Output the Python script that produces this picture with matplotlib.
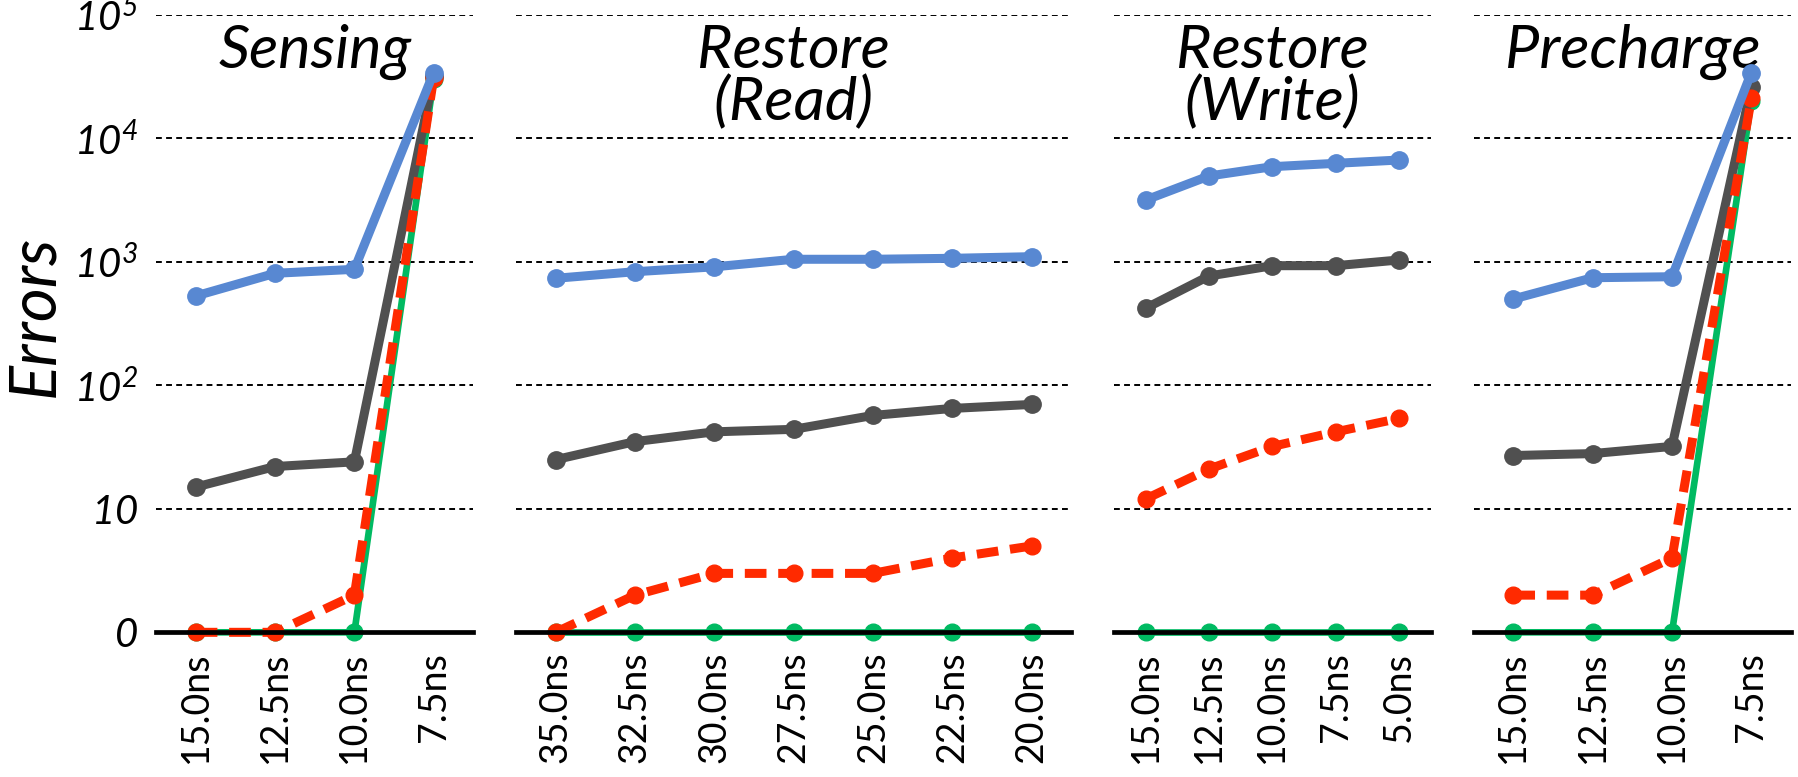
import numpy as np
import matplotlib
matplotlib.use("Agg")
import matplotlib.pyplot as plt
from matplotlib.gridspec import GridSpec

plt.rcParams['font.family'] = 'Lato'
plt.rcParams['mathtext.fontset'] = 'custom'
plt.rcParams['mathtext.rm'] = 'Lato:italic'
plt.rcParams['mathtext.it'] = 'Lato:italic'

# error counts per timing parameter
sensing_labels = ['15.0ns', '12.5ns', '10.0ns', '7.5ns']
sensing_blue = [529, 807, 869, 34000]
sensing_gray = [15, 22, 24, 32000]
sensing_red = [0, 0, 2, 31000]
sensing_green = [0, 0, 0, 30000]

read_labels = ['35.0ns', '32.5ns', '30.0ns', '27.5ns', '25.0ns', '22.5ns', '20.0ns']
read_blue = [735, 831, 910, 1048, 1048, 1067, 1100]
read_gray = [25, 35, 42, 44, 57, 65, 70]
read_red = [0, 2, 3, 3, 3, 4, 5]
read_green = [0, 0, 0, 0, 0, 0, 0]

write_labels = ['15.0ns', '12.5ns', '10.0ns', '7.5ns', '5.0ns']
write_blue = [3160, 4950, 5890, 6270, 6670]
write_gray = [420, 767, 930, 930, 1035]
write_red = [12, 21, 32, 42, 54]
write_green = [0, 0, 0, 0, 0]

pre_labels = ['15.0ns', '12.5ns', '10.0ns', '7.5ns']
pre_blue = [500, 743, 757, 34000]
pre_gray = [27, 28, 32, 26000]
pre_red = [2, 2, 4, 21000]
pre_green = [0, 0, 0, 20000]

panels = [
    ('Sensing', sensing_labels, sensing_blue, sensing_gray, sensing_red, sensing_green, 4),
    ('Restore\n(Read)', read_labels, read_blue, read_gray, read_red, read_green, 7),
    ('Restore\n(Write)', write_labels, write_blue, write_gray, write_red, write_green, 4),
    ('Precharge', pre_labels, pre_blue, pre_gray, pre_red, pre_green, 4),
]

BLUE = '#5888D2'
GRAY = '#505050'
RED = '#FF2A00'
GREEN = '#00BA62'


# log axis where 0 sits at the bottom together with 1
def fwd(v):
    return np.log10(np.maximum(v, 1))


def inv(y):
    return 10.0 ** y


fig = plt.figure(figsize=(17.98, 7.77), dpi=100)
gs = GridSpec(1, 4, figure=fig, width_ratios=[p[6] for p in panels],
              left=0.0868, right=0.9961, top=0.981, bottom=0.1862, wspace=0.113)

for i, (title, labels, blue, gray, red, green, w) in enumerate(panels):
    ax = fig.add_subplot(gs[0, i])
    x = np.arange(len(labels))
    ax.set_yscale('function', functions=(fwd, inv))
    ax.plot(x, green, color=GREEN, lw=4.8, marker='o', ms=12, zorder=2, clip_on=False)
    ax.plot(x, gray, color=GRAY, lw=6.5, marker='o', ms=12.5, zorder=3, clip_on=False)
    ax.plot(x, red, color=RED, lw=6.5, ls=(0, (2.4, 1.3)), marker='o', ms=12,
            zorder=4, clip_on=False)
    ax.plot(x, blue, color=BLUE, lw=6.5, marker='o', ms=12.5, zorder=5, clip_on=False)

    ax.set_xlim(-0.5, len(labels) - 0.5)
    ax.set_ylim(0, 1e5)
    ax.set_xticks(x)
    ax.set_xticklabels(labels, rotation=90, fontsize=27)
    ax.set_yticks([0, 10, 100, 1e3, 1e4, 1e5])
    if i == 0:
        ax.set_yticklabels(['$0$', '$10$', '$10^{2}$', '$10^{3}$', '$10^{4}$', '$10^{5}$'],
                           fontsize=29)
    else:
        ax.set_yticklabels([])
    ax.tick_params(axis='both', length=0)
    ax.tick_params(axis='x', pad=14)
    ax.tick_params(axis='y', pad=13)
    ax.yaxis.grid(True, color='black', lw=1.4, ls=(0, (3, 2.2)))
    ax.set_axisbelow(True)
    for s in ['top', 'left', 'right']:
        ax.spines[s].set_visible(False)
    ax.spines['bottom'].set_linewidth(3.4)
    ax.spines['bottom'].set_zorder(10)
    ax.text(0.5, 0.985, title, transform=ax.transAxes, ha='center', va='top',
            fontsize=44, style='italic', linespacing=0.92, zorder=1)

fig.text(34 / 1798, 1 - 316 / 777, 'Errors', rotation=90, ha='center', va='center',
         fontsize=47, style='italic')

fig.savefig('out.png', dpi=100)
